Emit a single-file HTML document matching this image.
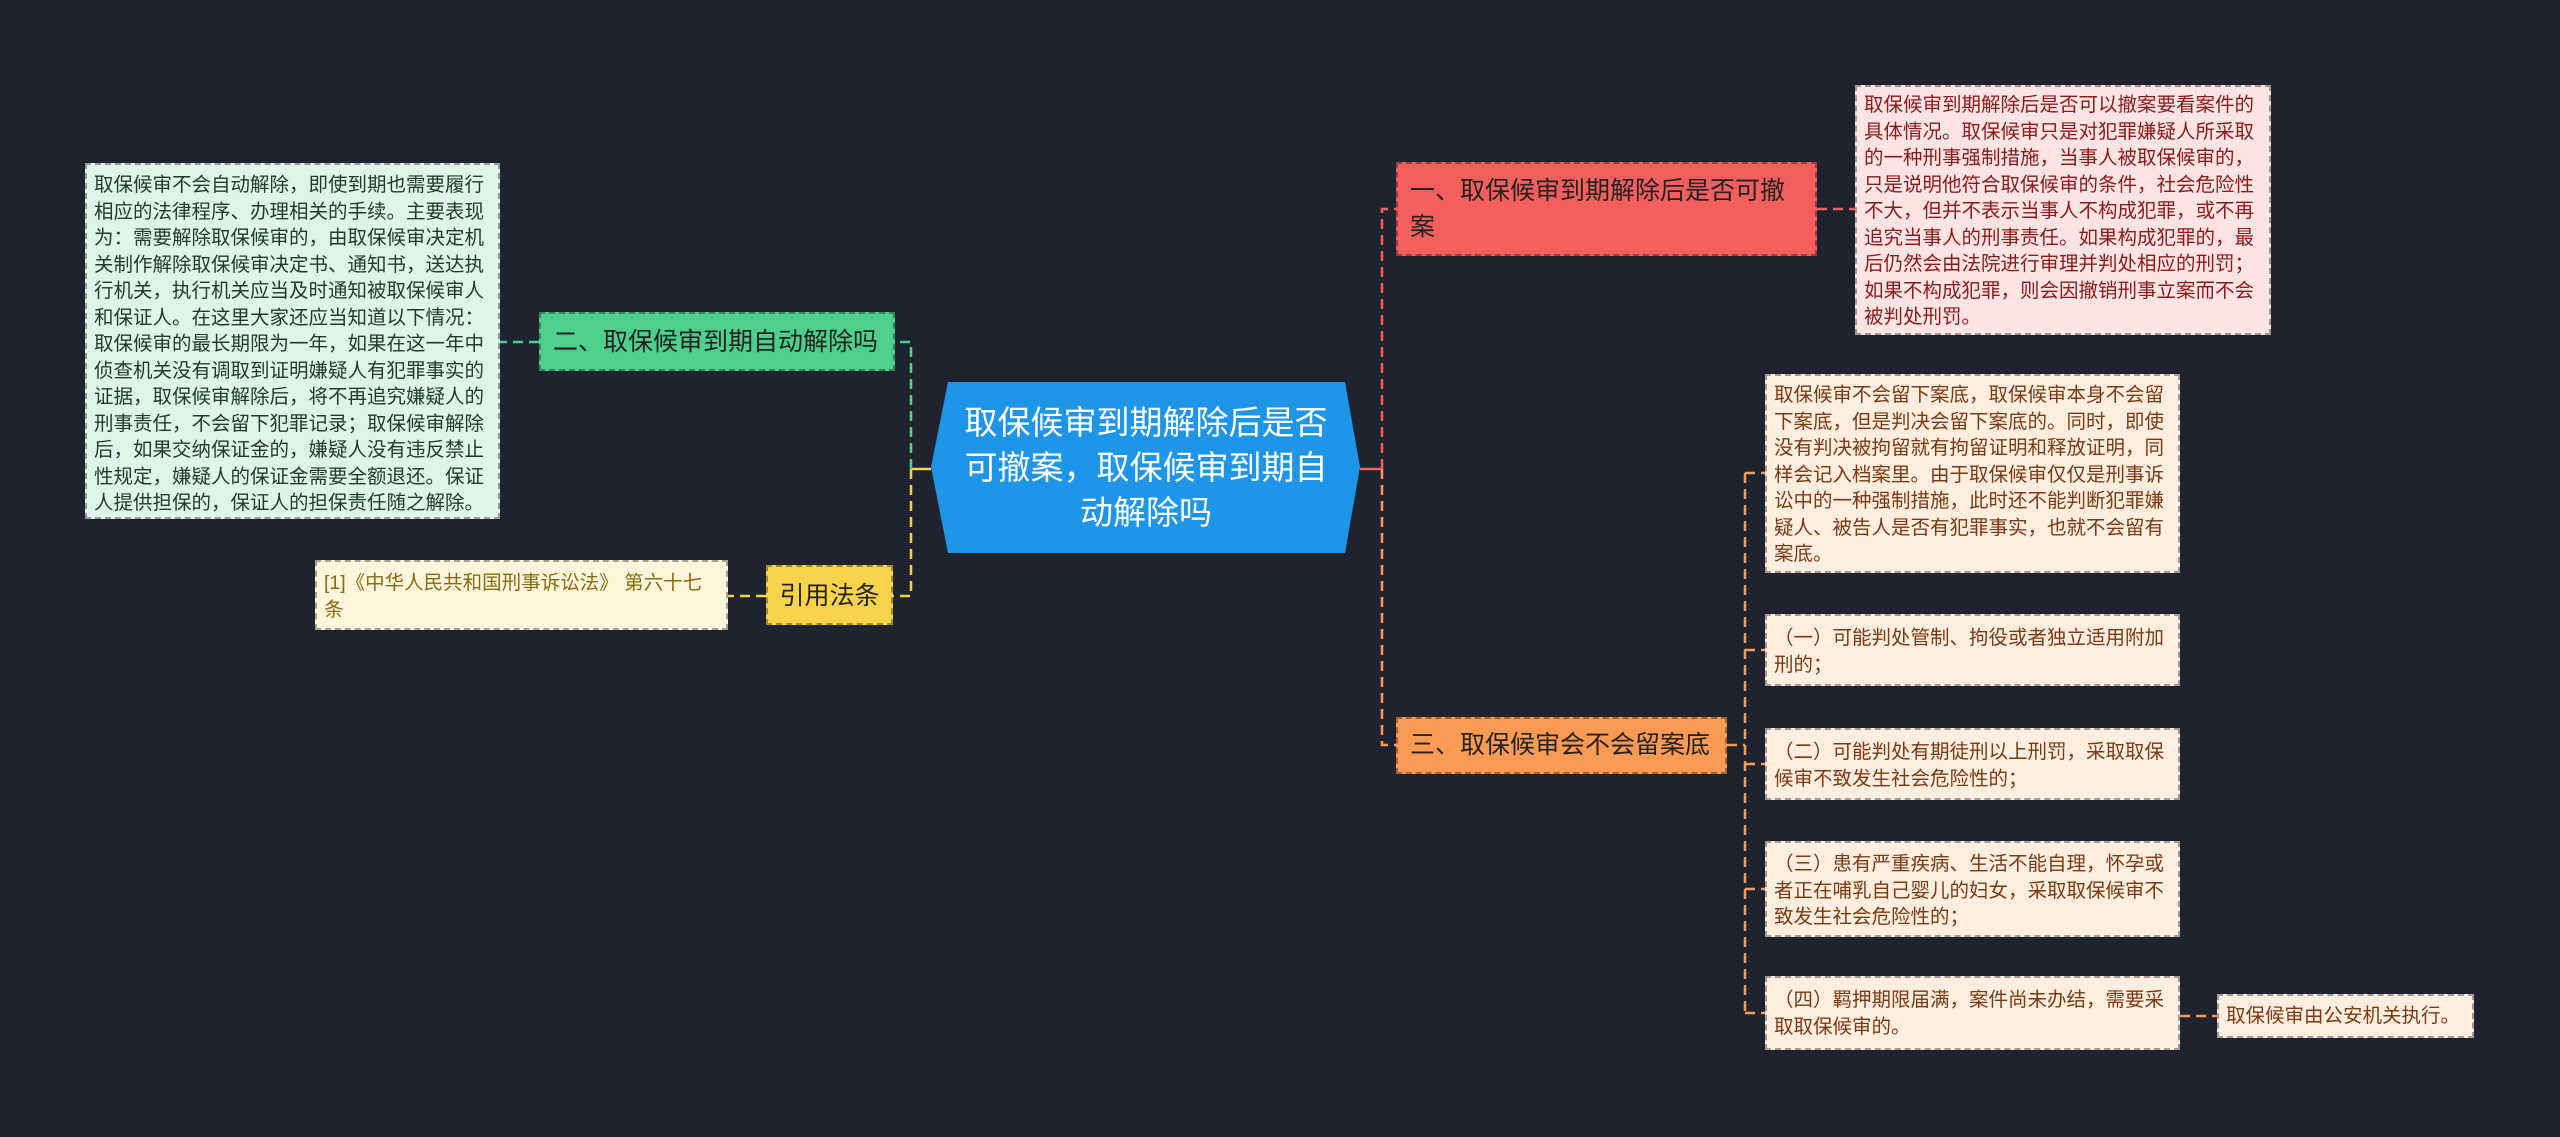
<!DOCTYPE html>
<html><head><meta charset="utf-8"><style>
body{margin:0;width:2560px;height:1137px;background:#1f2330;overflow:hidden;position:relative;font-family:"Liberation Sans","Noto Sans CJK SC",sans-serif}
.n{position:absolute;box-sizing:border-box;border:2px dashed rgba(0,0,0,.35)}
.t{font-size:19.5px;line-height:26.5px;padding:7px 7px;}
.h{font-size:25px;line-height:36px;padding:8px 12px;color:#222}
svg{position:absolute;left:0;top:0}
</style></head><body>
<svg width="2560" height="1137">
<g fill="none" stroke-width="2.5" stroke-dasharray="10,6">
<path d="M931 469 H911" stroke="#f3d24a" stroke-dasharray="none"/>
<path d="M911 469 V342 H895" stroke="#4cd08c"/>
<path d="M911 469 V596 H893" stroke="#f3d24a"/>
<path d="M539 342 H500" stroke="#4cd08c"/>
<path d="M766 596 H728" stroke="#f3d24a"/>
<path d="M1360 469 H1382" stroke="#f25f5c" stroke-dasharray="none"/>
<path d="M1382 469 V209 H1396" stroke="#f25f5c"/>
<path d="M1382 469 V745 H1396" stroke="#fb9a52"/>
<path d="M1817 209 H1855" stroke="#f25f5c"/>
<path d="M1727 745 H1745 M1745 473 V1013 M1745 473 H1765 M1745 650 H1765 M1745 764 H1765 M1745 889 H1765 M1745 1013 H1765 M2180 1016 H2217" stroke="#fb9a52"/>
</g>
<polygon points="948,382 1345,382 1360,467 1345,553 948,553 931,467" fill="#1f95e8"/>
<text x="1146" y="434" font-size="33" fill="#fff" text-anchor="middle" font-family="Liberation Sans,Noto Sans CJK SC,sans-serif">取保候审到期解除后是否</text>
<text x="1146" y="479" font-size="33" fill="#fff" text-anchor="middle" font-family="Liberation Sans,Noto Sans CJK SC,sans-serif">可撤案，取保候审到期自</text>
<text x="1146" y="524" font-size="33" fill="#fff" text-anchor="middle" font-family="Liberation Sans,Noto Sans CJK SC,sans-serif">动解除吗</text>
</svg>

<div class="n t" style="left:85px;top:163px;width:415px;height:356px;background:#dff5ea;color:#1e3b2c">取保候审不会自动解除，即使到期也需要履行相应的法律程序、办理相关的手续。主要表现为：需要解除取保候审的，由取保候审决定机关制作解除取保候审决定书、通知书，送达执行机关，执行机关应当及时通知被取保候审人和保证人。在这里大家还应当知道以下情况：取保候审的最长期限为一年，如果在这一年中侦查机关没有调取到证明嫌疑人有犯罪事实的证据，取保候审解除后，将不再追究嫌疑人的刑事责任，不会留下犯罪记录；取保候审解除后，如果交纳保证金的，嫌疑人没有违反禁止性规定，嫌疑人的保证金需要全额退还。保证人提供担保的，保证人的担保责任随之解除。</div>
<div class="n h" style="left:539px;top:312px;width:356px;height:59px;background:#4cd08c;padding-top:10px">二、取保候审到期自动解除吗</div>
<div class="n h" style="left:766px;top:565px;width:127px;height:60px;background:#f9d44a;padding:11px 0 0;text-align:center">引用法条</div>
<div class="n t" style="left:315px;top:560px;width:413px;height:70px;background:#fdf6dc;color:#8a6a10;padding-top:8px">[1]《中华人民共和国刑事诉讼法》 第六十七条</div>

<div class="n h" style="left:1396px;top:162px;width:421px;height:94px;background:#f25f5c;padding-top:9px">一、取保候审到期解除后是否可撤案</div>
<div class="n t" style="left:1855px;top:85px;width:416px;height:250px;background:#fde4e4;color:#8b1a1a;padding-top:5px">取保候审到期解除后是否可以撤案要看案件的具体情况。取保候审只是对犯罪嫌疑人所采取的一种刑事强制措施，当事人被取保候审的，只是说明他符合取保候审的条件，社会危险性不大，但并不表示当事人不构成犯罪，或不再追究当事人的刑事责任。如果构成犯罪的，最后仍然会由法院进行审理并判处相应的刑罚；如果不构成犯罪，则会因撤销刑事立案而不会被判处刑罚。</div>

<div class="n h" style="left:1396px;top:717px;width:331px;height:57px;background:#fb9a52;padding-top:8px">三、取保候审会不会留案底</div>
<div class="n t" style="left:1765px;top:374px;width:415px;height:199px;background:#fdeee0;color:#7a3a12;padding-top:6px">取保候审不会留下案底，取保候审本身不会留下案底，但是判决会留下案底的。同时，即使没有判决被拘留就有拘留证明和释放证明，同样会记入档案里。由于取保候审仅仅是刑事诉讼中的一种强制措施，此时还不能判断犯罪嫌疑人、被告人是否有犯罪事实，也就不会留有案底。</div>
<div class="n t" style="left:1765px;top:614px;width:415px;height:72px;background:#fdeee0;color:#7a3a12;padding-top:9px">（一）可能判处管制、拘役或者独立适用附加刑的；</div>
<div class="n t" style="left:1765px;top:728px;width:415px;height:72px;background:#fdeee0;color:#7a3a12;padding-top:9px">（二）可能判处有期徒刑以上刑罚，采取取保候审不致发生社会危险性的；</div>
<div class="n t" style="left:1765px;top:841px;width:415px;height:96px;background:#fdeee0;color:#7a3a12;padding-top:8px">（三）患有严重疾病、生活不能自理，怀孕或者正在哺乳自己婴儿的妇女，采取取保候审不致发生社会危险性的；</div>
<div class="n t" style="left:1765px;top:976px;width:415px;height:74px;background:#fdeee0;color:#7a3a12;padding-top:9px">（四）羁押期限届满，案件尚未办结，需要采取取保候审的。</div>
<div class="n t" style="left:2217px;top:994px;width:257px;height:44px;background:#fdeee0;color:#7a3a12;padding-top:7px;white-space:nowrap">取保候审由公安机关执行。</div>
</body></html>
